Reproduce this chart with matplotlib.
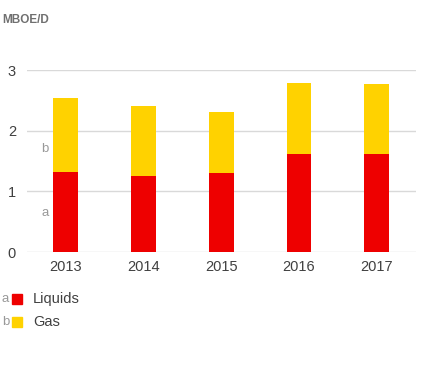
import matplotlib
matplotlib.use("Agg")
import matplotlib.pyplot as plt
from matplotlib.patches import Rectangle

plt.rcParams["font.family"] = ["Liberation Sans", "DejaVu Sans"]

# ── Data ────────────────────────────────────────────────────────────────────
years = ["2013", "2014", "2015", "2016", "2017"]
liquids = [1.32, 1.25, 1.30, 1.61, 1.61]
gas = [1.22, 1.15, 1.01, 1.17, 1.16]
series_names = ["Liquids", "Gas"]
series_keys = ["a", "b"]
yticks = [0, 1, 2, 3]

RED = "#EE0000"
YELLOW = "#FFD200"
GRID = "#D9D9D9"
TXT = "#404040"

fig = plt.figure(figsize=(4.41, 3.86), dpi=100)
ax = fig.add_axes([27 / 441, 1 - 252 / 386, (415.5 - 27) / 441, (252 - 70) / 386])

x = list(range(len(years)))
ax.bar(x, liquids, width=0.32, color=RED, zorder=3)
ax.bar(x, gas, width=0.32, bottom=liquids, color=YELLOW, zorder=3)

ax.set_xlim(-0.5, len(years) - 0.5)
ax.set_ylim(0, 3)
ax.set_yticks(yticks)
ax.set_xticks(x)
ax.set_xticklabels(years)
ax.grid(axis="y", color=GRID, linewidth=1, zorder=0)
for s in ax.spines.values():
    s.set_visible(False)
ax.tick_params(length=0, labelsize=10.5, labelcolor=TXT)
ax.tick_params(axis="y", pad=8)
ax.tick_params(axis="x", pad=6)

# segment keys inside the plot
ax.text(-0.27, 0.64, "a", color="#999999", fontsize=9.5, ha="center", va="center")
ax.text(-0.27, 1.70, "b", color="#999999", fontsize=9.5, ha="center", va="center")

fig.text(2 / 441, 1 - 20 / 386, "MBOE/D", fontsize=8.5, fontweight="bold",
         color="#707070", ha="left", va="center")

# legend
for i, (name, key, col) in enumerate(zip(series_names, series_keys, [RED, YELLOW])):
    yc = 1 - (299 + i * 23) / 386
    fig.text(2 / 441, yc, key, fontsize=9.5, color="#999999", ha="left", va="center")
    fig.patches.append(Rectangle((12 / 441, yc - 5 / 386), 10 / 441, 10 / 386,
                                 transform=fig.transFigure, color=col))
    fig.text(33 / 441, yc, name, fontsize=10.5, color=TXT, ha="left", va="center")

fig.savefig("out.png", dpi=100)
